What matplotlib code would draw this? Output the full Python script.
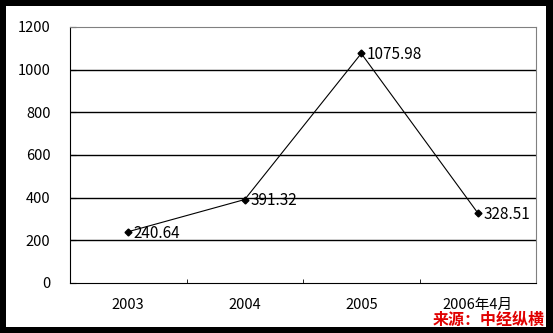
import matplotlib

matplotlib.use("Agg")
import matplotlib.pyplot as plt
from matplotlib.patches import Rectangle

plt.rcParams["font.family"] = ["Noto Sans CJK SC", "DejaVu Sans"]

categories = ["2003", "2004", "2005", "2006年4月"]
values = [240.64, 391.32, 1075.98, 328.51]
labels = ["240.64", "391.32", "1075.98", "328.51"]
yticks = [0, 200, 400, 600, 800, 1000, 1200]

W, H = 553, 333
fig = plt.figure(figsize=(W / 100, H / 100), dpi=100, facecolor="black")

# white card inside the black frame
fig.patches.append(Rectangle((6 / W, 6 / H), 540 / W, 321 / H, transform=fig.transFigure,
                             facecolor="white", edgecolor="none", zorder=-5))

ax = fig.add_axes([70 / W, 50 / H, 466 / W, 256 / H])
ax.set_facecolor("white")

x = [i + 0.5 for i in range(len(categories))]
ax.plot(x, values, color="black", lw=0.8, marker="D", ms=3.5, zorder=3)
for xi, v, lab in zip(x, values, labels):
    ax.annotate(lab, (xi, v), xytext=(4, -1), textcoords="offset points",
                ha="left", va="center", fontsize=11)

ax.set_xlim(0, len(categories))
ax.set_ylim(0, 1200)
ax.set_yticks(yticks)
ax.set_xticks(x)
ax.set_xticklabels(categories)
ax.set_xticks(range(1, len(categories)), minor=True)

for y in yticks[1:-1]:
    ax.axhline(y, color="black", lw=1, zorder=1)

ax.tick_params(axis="x", which="major", length=0, pad=11, labelsize=10.5)
ax.tick_params(axis="x", which="minor", length=3, direction="in", color="black")
ax.tick_params(axis="y", length=4, direction="in", pad=14, labelsize=10.5)

for side in ("left", "bottom"):
    ax.spines[side].set_color("black")
for side in ("top", "right"):
    ax.spines[side].set_color("#808080")

fig.text(545 / W, 5 / H, "来源：中经纵横", color="#e00000", fontsize=11.5,
         fontweight="bold", style="italic", ha="right", va="bottom")

fig.savefig("out.png", dpi=100, facecolor=fig.get_facecolor())
